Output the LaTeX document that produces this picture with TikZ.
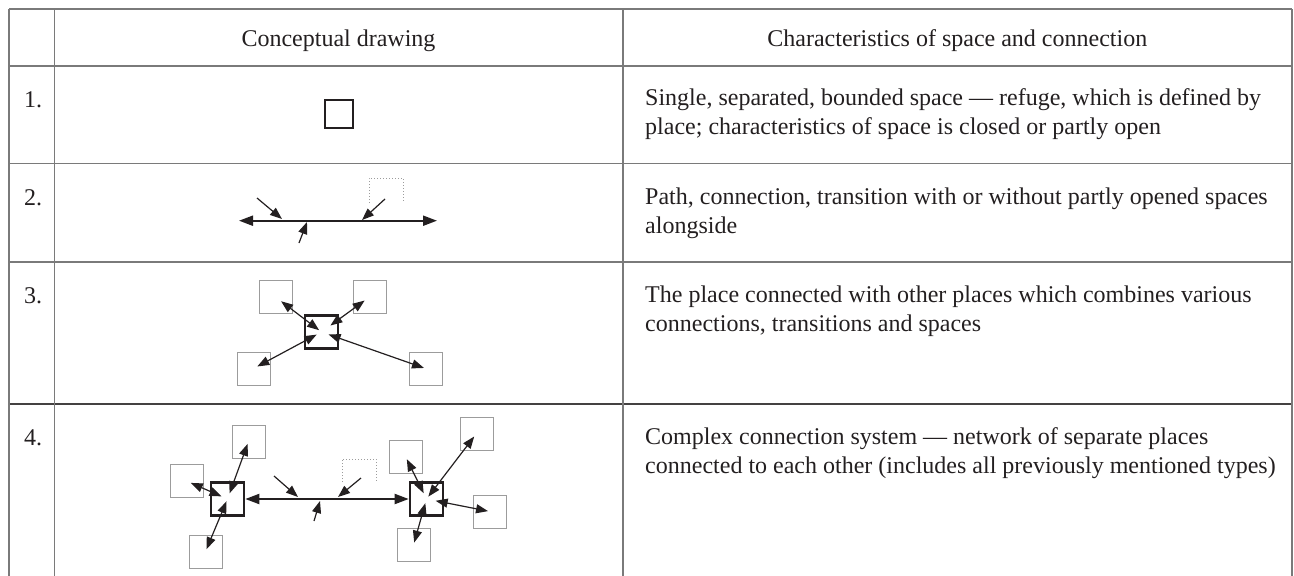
\documentclass[tikz,border=0pt]{standalone}
\usepackage{fontspec}
\setmainfont{Liberation Serif}
\usetikzlibrary{arrows.meta}
\definecolor{ink}{HTML}{231F20}
\definecolor{rulegray}{HTML}{7A7A7A}
\definecolor{boxgray}{HTML}{9C9C9C}
\begin{document}
\begin{tikzpicture}[x=1pt,y=-1pt,
  txt/.style={font=\fontsize{24}{29}\selectfont, text=ink, inner sep=0pt},
  tline/.style={draw=rulegray,line width=1.6pt},
  sq/.style={draw=boxgray, line width=1pt, minimum size=33pt, inner sep=0pt},
  hub/.style={draw=ink, line width=2.6pt, minimum size=33pt, inner sep=0pt},
  arr/.style={draw=ink, line width=1.2pt, -{Triangle[length=12pt,width=9pt]}},
  darr/.style={draw=ink, line width=1.2pt, {Triangle[length=12pt,width=9pt]}-{Triangle[length=12pt,width=9pt]}},
  mainline/.style={draw=ink, line width=2pt, {Triangle[length=14pt,width=10pt]}-{Triangle[length=14pt,width=10pt]}},
  dots/.style={draw=boxgray, line width=1pt, dotted}]
\useasboundingbox (0,0) rectangle (1294,576);
% table
\draw[tline] (9,9) -- (1292,9);
\draw[tline] (9,65.7) -- (1292,65.7);
\draw[tline] (9,163.3) -- (1292,163.3);
\draw[tline] (9,261.7) -- (1292,261.7);
\draw[tline, draw=ink!85] (9,403.7) -- (1292,403.7);
\draw[tline] (9,9) -- (9,576);
\draw[tline] (54.3,9) -- (54.3,576);
\draw[tline] (622.7,9) -- (622.7,576);
\draw[tline] (1292,9) -- (1292,576);
% header
\node[txt, anchor=base] (h2) at (338.5,46) {Conceptual drawing};
\node[txt, anchor=base] (h3) at (957.3,46) {Characteristics of space and connection};
% numbers
\node[txt, anchor=base west] (n1) at (24,107) {1.};
\node[txt, anchor=base west] (n2) at (24,205) {2.};
\node[txt, anchor=base west] (n3) at (24,303) {3.};
\node[txt, anchor=base west] (n4) at (24,445) {4.};
% descriptions (base = last line)
\node[txt, anchor=base west, align=left] (d1) at (645,134) {Single, separated, bounded space — refuge, which is defined by\\place; characteristics of space is closed or partly open};
\node[txt, anchor=base west, align=left] (d2) at (645,233) {Path, connection, transition with or without partly opened spaces\\alongside};
\node[txt, anchor=base west, align=left] (d3) at (645,331) {The place connected with other places which combines various\\connections, transitions and spaces};
\node[txt, anchor=base west, align=left] (d4) at (645,473) {Complex connection system — network of separate places\\connected to each other (includes all previously mentioned types)};
% row 1
\node[hub, minimum size=28pt] (box1) at (339,114) {};
% row 2
\coordinate (L2) at (239,220.7);
\coordinate (R2) at (437,220.7);
\draw[mainline] (L2) -- (R2);
\coordinate (a1s) at (257,198); \coordinate (a1e) at (282,219);
\coordinate (a2s) at (299,243); \coordinate (a2e) at (307,222);
\coordinate (a3s) at (385,199); \coordinate (a3e) at (362,220);
\draw[arr] (a1s) -- (a1e);
\draw[arr] (a2s) -- (a2e);
\draw[arr] (a3s) -- (a3e);
\draw[dots] (369,203) -- (369,178) -- (403,178) -- (403,202);
% row 3
\node[hub] (c3) at (321.5,332) {};
\node[sq] (tl3) at (275.5,297) {};
\node[sq] (tr3) at (369.5,297) {};
\node[sq] (bl3) at (253.5,368.5) {};
\node[sq] (br3) at (425.5,368.5) {};
\draw[darr, shorten <=3pt, shorten >=7pt] (c3.center) -- (tl3.center);
\draw[darr, shorten <=11pt, shorten >=6pt] (c3.center) -- (tr3.center);
\draw[darr, shorten <=5.5pt, shorten >=4.3pt] (c3.center) -- (bl3.center);
\draw[darr, shorten <=7.5pt, shorten >=1.6pt] (c3.center) -- (br3.center);
% row 4 left group
\node[hub] (L4) at (227.5,499) {};
\node[sq] (lt4) at (248.5,441.5) {};
\node[sq] (ll4) at (186.5,481) {};
\node[sq] (lb4) at (205.5,551.5) {};
\draw[darr, shorten <=6pt, shorten >=2.5pt] (L4.center) -- (lt4.center);
\draw[darr, shorten <=6.5pt, shorten >=4.7pt] (L4.center) -- (ll4.center);
\draw[darr, shorten <=2.5pt, shorten >=2.5pt] (L4.center) -- (lb4.center);
% row 4 right group
\node[hub] (R4) at (426.5,499) {};
\node[sq] (rtl4) at (405.5,456.5) {};
\node[sq] (rtr4) at (476.5,433.5) {};
\node[sq] (rr4) at (490,511.5) {};
\node[sq] (rb4) at (413.5,545) {};
\draw[darr, shorten <=6.4pt, shorten >=3pt] (R4.center) -- (rtl4.center);
\draw[darr, shorten <=3pt, shorten >=3.8pt] (R4.center) -- (rtr4.center);
\draw[darr, shorten <=9.3pt, shorten >=2pt] (R4.center) -- (rr4.center);
\draw[darr, shorten <=4.3pt, shorten >=2.5pt] (R4.center) -- (rb4.center);
% row 4 path
\draw[mainline] (L4) -- (R4);
\coordinate (b1s) at (274,476); \coordinate (b1e) at (298,497);
\coordinate (b2s) at (314,521); \coordinate (b2e) at (320,501);
\coordinate (b3s) at (361,478); \coordinate (b3e) at (338,497);
\draw[arr] (b1s) -- (b1e);
\draw[arr] (b2s) -- (b2e);
\draw[arr] (b3s) -- (b3e);
\draw[dots] (342,482) -- (342,459) -- (376,459) -- (376,482);
\end{tikzpicture}
\end{document}
